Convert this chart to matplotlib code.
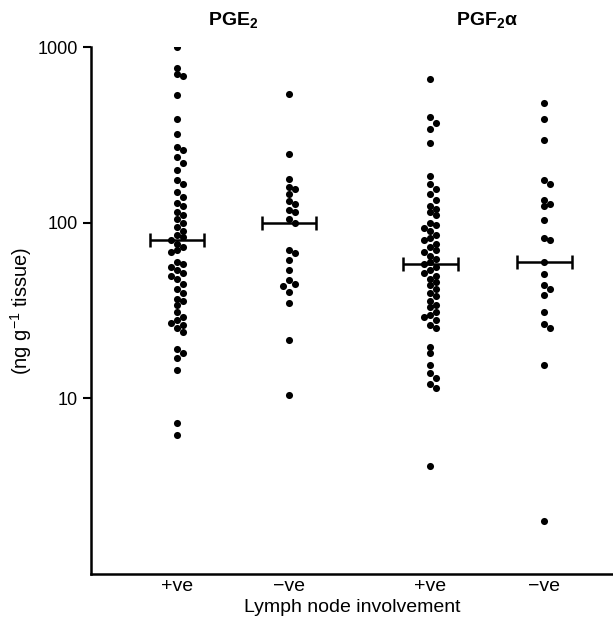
import matplotlib as mpl
import matplotlib.pyplot as plt
import matplotlib.transforms as mtransforms
import numpy as np

# values (ng/g tissue)
pge2_pos = [1000, 760, 700, 680, 530, 390, 320, 270, 260, 235, 220, 200, 175, 165,
            150, 140, 130, 125, 115, 110, 105, 100, 95, 90, 85, 83, 80, 76, 73, 70,
            68, 60, 58, 56, 54, 52, 50, 48, 45, 42, 40, 37, 36, 34, 31, 29, 28, 27,
            26, 25, 24, 19, 18, 17, 14.5, 7.2, 6.2]
pge2_neg = [540, 245, 178, 160, 155, 145, 132, 128, 118, 115, 105, 100, 70, 67, 61,
            54, 47, 44.5, 43.5, 40.5, 35, 21.5, 10.5]
pgf2a_pos = [660, 400, 370, 340, 285, 185, 165, 155, 145, 135, 125, 120, 115, 110,
             100, 97, 93, 90, 85, 82, 80, 76, 73, 70, 68, 65, 62, 60, 58, 56, 54, 52,
             50, 48, 46, 44, 42, 40, 38, 36, 34, 33, 31, 30, 29, 28, 26, 25, 19.5, 18,
             15.5, 14, 13, 12, 11.5, 4.1]
pgf2a_neg = [480, 390, 295, 175, 165, 135, 128, 124, 104, 82, 80, 60, 51, 44, 42, 39,
             31, 26.5, 25, 15.5, 2.0]
means = [80, 100, 58, 60]

groups = [pge2_pos, pge2_neg, pgf2a_pos, pgf2a_neg]
tick_labels = ['+ve', '\u2212ve', '+ve', '\u2212ve']

mpl.rcParams['font.family'] = ['Liberation Sans', 'DejaVu Sans']
mpl.rcParams['mathtext.fontset'] = 'custom'
mpl.rcParams['mathtext.rm'] = 'Liberation Sans'
mpl.rcParams['mathtext.bf'] = 'Liberation Sans:bold'

dpi = 100
fig = plt.figure(dpi=dpi, figsize=(613 / dpi, 632 / dpi))
ax = fig.add_axes([91 / 613, 58 / 632, 522 / 613, 527 / 632])

xpos = [1, 2, 3.26, 4.28]
px_per_unit = 112.0
px_per_decade = 175.7
step = 6.0


def swarm(vals, x0):
    placed = []
    xs = []
    for v in vals:
        yp = np.log10(v) * px_per_decade
        for k in [0, 1, -1, 2, -2, 3, -3]:
            xp = k * step
            ok = True
            for (px, py) in placed:
                if (px - xp) ** 2 + (py - yp) ** 2 < step ** 2:
                    ok = False
                    break
            if ok:
                break
        placed.append((xp, yp))
        xs.append(x0 + xp / px_per_unit)
    return xs


for g, x0 in zip(groups, xpos):
    vals = sorted(g, reverse=True)
    xs = swarm(vals, x0)
    ax.scatter(xs, vals, s=26, color='black', linewidths=0, zorder=3)

ax.errorbar(xpos, means, xerr=0.245, fmt='none', ecolor='black', elinewidth=1.8,
            capsize=5, capthick=1.8, zorder=2)

ax.set_yscale('log')
ax.set_ylim(1, 1000)
ax.set_xlim(1 - 86 / px_per_unit, 1 + 436 / px_per_unit)
ax.set_yticks([10, 100, 1000])
ax.set_yticklabels(['10', '100', '1000'])
ax.yaxis.set_minor_locator(mpl.ticker.NullLocator())
ax.set_xticks(xpos)
ax.set_xticklabels(tick_labels)
ax.tick_params(axis='x', length=0, pad=3, labelsize=14)
ax.tick_params(axis='y', length=6, width=1.5, labelsize=13, direction='out')

for s in ['top', 'right']:
    ax.spines[s].set_visible(False)
for s in ['left', 'bottom']:
    ax.spines[s].set_linewidth(1.8)

ax.set_xlabel('Lymph node involvement', fontsize=14, labelpad=3)
ax.set_ylabel('(ng g$^{-1}$ tissue)', fontsize=14.5, va='center')
ax.yaxis.set_label_coords(-70 / 522, 0.5)

trans = mtransforms.blended_transform_factory(ax.transData, fig.transFigure)
ax.text((xpos[0] + xpos[1]) / 2, 1 - 20 / 632, r'$\mathbf{PGE_2}$', transform=trans,
        ha='center', va='center', fontsize=14)
ax.text((xpos[2] + xpos[3]) / 2, 1 - 20 / 632, r'$\mathbf{PGF_2}$' + '\u03b1',
        transform=trans, ha='center', va='center', fontsize=14, fontweight='bold')

fig.savefig('out.png')
